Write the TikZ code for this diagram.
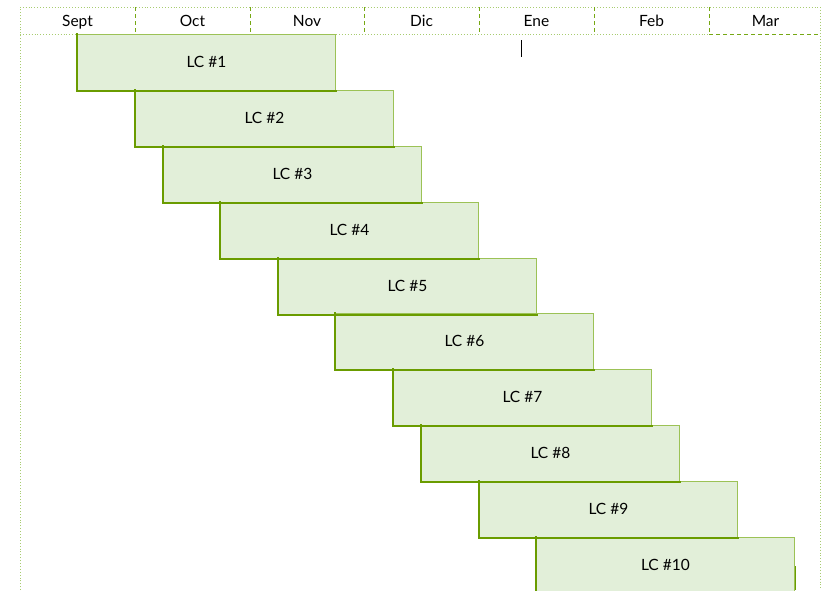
\documentclass[tikz,border=0pt]{standalone}
\usepackage{fontspec}
\setmainfont{Lato}
\definecolor{gridlight}{HTML}{A8CC70}
\definecolor{griddark}{HTML}{76A814}
\definecolor{barfill}{HTML}{E2EFD9}
\definecolor{barthin}{HTML}{9CC256}
\definecolor{barthick}{HTML}{6A9C00}
\begin{document}
\begin{tikzpicture}[x=1pt,y=-1pt,
  month/.style={font=\fontsize{15.5}{17}\selectfont, anchor=center, inner sep=0pt,
    text height=11pt, text depth=0pt},
  lightgrid/.style={gridlight, line width=0.9pt, dotted},
  darkgrid/.style={griddark, line width=1pt, dash pattern=on 4pt off 3pt},
  bar/.style={draw=barthin, fill=barfill, line width=0.8pt, minimum width=258pt,
    minimum height=56pt, inner sep=0pt, anchor=north west,
    text height=11pt, text depth=0pt,
    font=\fontsize{15.5}{17}\selectfont},
  baredge/.style={barthick, line width=1.8pt, line cap=rect}]
\useasboundingbox (0,0) rectangle (829,590);
\fill[white] (0,0) rectangle (829,590);

% outer frame
\coordinate (tl) at (20,7);
\coordinate (tr) at (820,7);
\coordinate (bl) at (20,590);
\coordinate (br) at (820,590);
\draw[lightgrid] (bl) -- (tl) -- (tr) -- (br);
\draw[lightgrid] (20,34) -- (709,34);
\draw[darkgrid] (709,34) -- (820,34);

% month columns
\foreach \x [count=\i] in {135,250,364,479,594,709} {
  \coordinate (d\i) at (\x,7);
  \draw[darkgrid] (d\i) -- ++(0,27);
}
\node[month] (m1) at (77.5,21) {Sept};
\node[month] (m2) at (192.5,21) {Oct};
\node[month] (m3) at (307,21) {Nov};
\node[month] (m4) at (421.5,21) {Dic};
\node[month] (m5) at (536.5,21) {Ene};
\node[month] (m6) at (651.5,21) {Feb};
\node[month] (m7) at (765.5,21) {Mar};

% text cursor
\coordinate (c1) at (521.5,40);
\coordinate (c2) at (521.5,57);
\draw[black, line width=1.3pt] (c1) -- (c2);

% bars: fills first, then the heavy left and bottom edges on top
\foreach \x/\y [count=\i] in {77/34,135/90,163/146,220/202,278/258,335/313,393/369,421/425,479/481,536/537} {
  \node[bar] (b\i) at (\x,\y) {LC \#\i};
}
\foreach \i in {1,...,10} {
  \draw[baredge] (b\i.north west) -- (b\i.south west) -- (b\i.south east);
}
\draw[baredge, line cap=butt] (795.5,566) -- (795.5,590);
\end{tikzpicture}
\end{document}
